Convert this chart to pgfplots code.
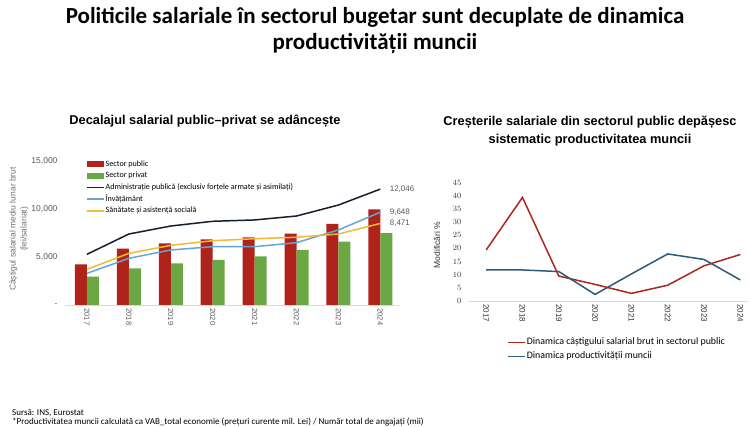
\documentclass[border=0pt]{standalone}
\usepackage{pgfplots}
\pgfplotsset{compat=1.18}
\usepackage{fontspec}
\setmainfont{Carlito}
\newfontfamily\numfont{Liberation Sans}

\definecolor{pubred}{HTML}{B0231A}
\definecolor{privgreen}{HTML}{6BA843}
\definecolor{adminnavy}{HTML}{14202E}
\definecolor{edublue}{HTML}{5FA8D6}
\definecolor{healthyellow}{HTML}{F3B934}
\definecolor{wagered}{HTML}{A8281E}
\definecolor{prodblue}{HTML}{2E5A78}
\definecolor{ticktext}{HTML}{595959}
\definecolor{basegray}{HTML}{D9D9D9}

% legend keys: filled box for bars, thick stroke for lines
\pgfplotsset{
  boxkey/.style={legend image code/.code={\path[fill=#1, draw=none] (0pt,-2.7pt) rectangle (17pt,2.7pt);}},
  linekey/.style={legend image code/.code={\path[draw=#1, line width=1.8pt, line cap=butt] (0pt,0pt) -- (17pt,0pt);}},
}

\begin{document}
\begin{tikzpicture}[x=1pt,y=1pt]
\path[use as bounding box, fill=white] (0,0) rectangle (750,427);
\coordinate (leftorigin) at (65,122);
\coordinate (rightorigin) at (468,126);

% main title
\node[font=\bfseries\fontsize{23}{26}\selectfont, align=center] at (375,396)
  {Politicile salariale în sectorul bugetar sunt decuplate de dinamica\\productivității muncii};

% panel titles
\node[font=\numfont\bfseries\fontsize{12.8}{18}\selectfont] at (205,306) {Decalajul salarial public–privat se adâncește};
\node[font=\numfont\bfseries\fontsize{12.8}{18.5}\selectfont, align=center] at (590,296)
  {Creșterile salariale din sectorul public depășesc\\sistematic productivitatea muncii};

% ---------------- left panel: average gross monthly earnings ----------------
\begin{axis}[
  at={(leftorigin)}, anchor=south west,
  scale only axis, width=335pt, height=144.3pt,
  xmin=-0.525, xmax=7.47, ymin=0, ymax=15000,
  separate axis lines,
  axis x line*=bottom, axis y line*=left,
  x axis line style={draw=basegray, -},
  y axis line style={draw=none},
  tick style={draw=none},
  xtick={0,...,7}, xticklabels={2017,2018,2019,2020,2021,2022,2023,2024},
  ytick={0,5000,10000,15000}, yticklabels={-,{5,000},{10,000},{15,000}},
  scaled y ticks=false,
  xticklabel style={rotate=-90, anchor=west, font=\numfont\fontsize{7.5}{8}\selectfont, text=ticktext},
  yticklabel style={font=\numfont\fontsize{8.5}{9}\selectfont, text=ticktext, xshift=-4pt},
  legend style={at={(0.063,1.006)}, anchor=north west, draw=none, fill=none,
    font=\fontsize{8.1}{9}\selectfont, row sep=3.5pt, inner sep=0pt,
    nodes={inner sep=0.6pt, text height=5.5pt, text depth=1.5pt}},
  legend cell align=left,
  clip=false,
]
\addlegendimage{boxkey=pubred}
\addlegendentry{Sector public}
\addlegendimage{boxkey=privgreen}
\addlegendentry{Sector privat}
\addlegendimage{linekey=adminnavy}
\addlegendentry{Administrație publică (exclusiv forțele armate și asimilați)}
\addlegendimage{linekey=edublue}
\addlegendentry{Învățământ}
\addlegendimage{linekey=healthyellow}
\addlegendentry{Sănătate și asistență socială}

\addplot[forget plot, ybar, bar width=12pt, bar shift=-6pt, fill=pubred, draw=none]
  coordinates {(0,4230) (1,5850) (2,6410) (3,6830) (4,7040) (5,7420) (6,8420) (7,9950)};
\addplot[forget plot, ybar, bar width=12pt, bar shift=6pt, fill=privgreen, draw=none]
  coordinates {(0,2940) (1,3810) (2,4330) (3,4680) (4,5060) (5,5720) (6,6580) (7,7480)};
\addplot[forget plot, adminnavy, line width=1.5pt, sharp plot, no marks]
  coordinates {(0,5270) (1,7380) (2,8210) (3,8700) (4,8840) (5,9250) (6,10390) (7,12046)};
\addplot[forget plot, edublue, line width=1.5pt, sharp plot, no marks]
  coordinates {(0,3290) (1,4850) (2,5720) (3,6060) (4,6060) (5,6480) (6,7800) (7,9648)};
\addplot[forget plot, healthyellow, line width=1.5pt, sharp plot, no marks]
  coordinates {(0,3710) (1,5370) (2,6200) (3,6680) (4,6890) (5,7040) (6,7380) (7,8471)};

\node[anchor=west, font=\numfont\fontsize{8}{9}\selectfont, text=ticktext] at (axis cs:7,12046) [xshift=6pt] {12,046};
\node[anchor=west, font=\numfont\fontsize{8}{9}\selectfont, text=ticktext] at (axis cs:7,9648) [xshift=6pt] {9,648};
\node[anchor=west, font=\numfont\fontsize{8}{9}\selectfont, text=ticktext] at (axis cs:7,8471) [xshift=6pt] {8,471};
\end{axis}

\node[rotate=90, align=center, font=\numfont\fontsize{8.5}{11}\selectfont, text=black!55] at (19,198)
  {Câștigul salarial mediu lunar brut\\(lei/salariat)};

% ---------------- right panel: annual changes ----------------
\begin{axis}[
  at={(rightorigin)}, anchor=south west,
  scale only axis, width=280pt, height=118.3pt,
  xmin=-0.5, xmax=7.21, ymin=0, ymax=45,
  separate axis lines,
  axis x line*=bottom, axis y line*=left,
  x axis line style={draw=basegray, -},
  y axis line style={draw=none},
  tick style={draw=none},
  xtick={0,...,7}, xticklabels={2017,2018,2019,2020,2021,2022,2023,2024},
  ytick={0,5,...,45},
  xticklabel style={rotate=-90, anchor=west, font=\numfont\fontsize{8}{9}\selectfont, text=black!80},
  yticklabel style={font=\numfont\fontsize{8.5}{9}\selectfont, text=black!80, xshift=-3pt},
  legend style={at={(0.14,-0.308)}, anchor=north west, draw=none, fill=none,
    font=\fontsize{9.9}{11}\selectfont, row sep=4.3pt, inner sep=0pt,
    nodes={inner sep=0.6pt, text height=6.5pt, text depth=2pt}},
  legend cell align=left,
  clip=false,
]
\addlegendimage{linekey=wagered}
\addlegendentry{Dinamica câștigului salarial brut in sectorul public}
\addlegendimage{linekey=prodblue}
\addlegendentry{Dinamica productivității muncii}

\addplot[forget plot, wagered, line width=1.5pt, sharp plot, no marks]
  coordinates {(0,19.4) (1,39.4) (2,9.5) (3,6.3) (4,2.9) (5,6.0) (6,13.4) (7,17.7)};
\addplot[forget plot, prodblue, line width=1.5pt, sharp plot, no marks]
  coordinates {(0,11.8) (1,11.8) (2,11.2) (3,2.5) (4,10.3) (5,17.9) (6,15.8) (7,8.0)};
\end{axis}

\node[rotate=90, font=\numfont\fontsize{8.5}{9}\selectfont, text=black!80] at (437,182) {Modificări \%};

% sources
\node[anchor=base west, font=\fontsize{9}{10}\selectfont, inner sep=0pt] at (12,11.5) {Sursă: INS, Eurostat};
\node[anchor=base west, font=\fontsize{9}{10}\selectfont, inner sep=0pt] at (12,2)
  {*Productivitatea muncii calculată ca VAB\_total economie (prețuri curente mil. Lei) / Număr total de angajați (mii)};
\end{tikzpicture}
\end{document}
